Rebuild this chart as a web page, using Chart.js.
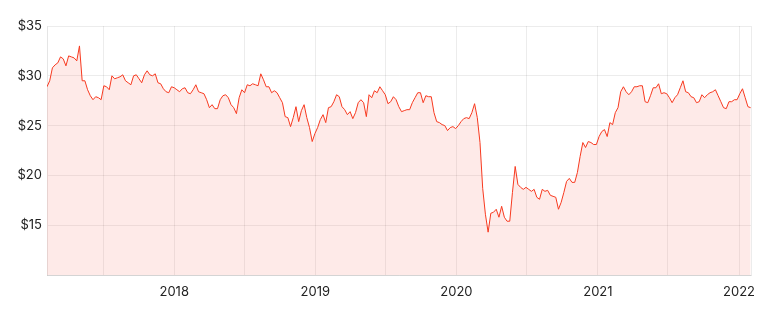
<!DOCTYPE html>
<html><head><meta charset="utf-8">
<script src="https://cdn.jsdelivr.net/npm/chart.js@4.4.1/dist/chart.umd.min.js"></script>
<style>html,body{margin:0;padding:0;background:#fff}#wrap{width:767px;height:311px}</style>
</head><body><div id="wrap"><canvas id="c" width="767" height="311"></canvas></div>
<script>
// Weekly closing prices (USD)
const weeks2017 = ["2017-02-06","2017-02-13","2017-02-20","2017-02-27","2017-03-06","2017-03-13","2017-03-20","2017-03-27","2017-04-03","2017-04-10","2017-04-17","2017-04-24","2017-05-01","2017-05-08","2017-05-15","2017-05-22","2017-05-29","2017-06-05","2017-06-12","2017-06-19","2017-06-26","2017-07-03","2017-07-10","2017-07-17","2017-07-24","2017-07-31","2017-08-07","2017-08-14","2017-08-21","2017-08-28","2017-09-04","2017-09-11","2017-09-18","2017-09-25","2017-10-02","2017-10-09","2017-10-16","2017-10-23","2017-10-30","2017-11-06","2017-11-13","2017-11-20","2017-11-27","2017-12-04","2017-12-11","2017-12-18","2017-12-25"];
const close2017 = [28.9,29.5,30.8,31.1,31.3,31.9,31.7,31.0,32.0,31.9,31.8,31.5,33.0,29.5,29.5,28.6,28.0,27.6,27.9,27.8,27.6,29.0,28.9,28.6,30.0,29.7,29.8,29.9,30.1,29.5,29.3,29.1,30.0,30.1,29.7,29.3,30.1,30.5,30.1,30.0,30.2,29.3,29.2,28.7,28.4,28.3,28.9];

const weeks2018 = ["2018-01-01","2018-01-08","2018-01-15","2018-01-22","2018-01-29","2018-02-05","2018-02-12","2018-02-19","2018-02-26","2018-03-05","2018-03-12","2018-03-19","2018-03-26","2018-04-02","2018-04-09","2018-04-16","2018-04-23","2018-04-30","2018-05-07","2018-05-14","2018-05-21","2018-05-28","2018-06-04","2018-06-11","2018-06-18","2018-06-25","2018-07-02","2018-07-09","2018-07-16","2018-07-23","2018-07-30","2018-08-06","2018-08-13","2018-08-20","2018-08-27","2018-09-03","2018-09-10","2018-09-17","2018-09-24","2018-10-01","2018-10-08","2018-10-15","2018-10-22","2018-10-29","2018-11-05","2018-11-12","2018-11-19","2018-11-26","2018-12-03","2018-12-10","2018-12-17","2018-12-24","2018-12-31"];
const close2018 = [28.8,28.6,28.4,28.7,28.8,28.3,28.2,28.6,29.1,28.4,28.3,28.2,27.6,26.8,27.1,26.7,26.7,27.6,28.0,28.1,27.8,27.1,26.8,26.2,27.8,28.6,28.3,29.1,29.0,29.2,29.1,29.0,30.2,29.6,28.9,28.9,28.3,28.5,28.3,27.8,27.3,25.9,25.8,24.9,25.8,26.9,25.4,26.5,27.1,25.8,24.8,23.4,24.2];

const weeks2019 = ["2019-01-07","2019-01-14","2019-01-21","2019-01-28","2019-02-04","2019-02-11","2019-02-18","2019-02-25","2019-03-04","2019-03-11","2019-03-18","2019-03-25","2019-04-01","2019-04-08","2019-04-15","2019-04-22","2019-04-29","2019-05-06","2019-05-13","2019-05-20","2019-05-27","2019-06-03","2019-06-10","2019-06-17","2019-06-24","2019-07-01","2019-07-08","2019-07-15","2019-07-22","2019-07-29","2019-08-05","2019-08-12","2019-08-19","2019-08-26","2019-09-02","2019-09-09","2019-09-16","2019-09-23","2019-09-30","2019-10-07","2019-10-14","2019-10-21","2019-10-28","2019-11-04","2019-11-11","2019-11-18","2019-11-25","2019-12-02","2019-12-09","2019-12-16","2019-12-23","2019-12-30"];
const close2019 = [24.8,25.6,26.1,25.3,26.8,26.9,27.4,28.1,27.9,26.9,26.6,26.1,26.4,25.7,26.3,27.3,27.6,27.3,25.9,28.1,27.8,28.5,28.3,28.9,28.5,28.1,27.2,27.4,27.9,27.6,26.9,26.4,26.5,26.6,26.6,27.3,27.8,28.3,28.3,27.3,28.0,27.9,27.9,26.3,25.4,25.3,25.1,25.0,24.5,24.8,24.9,24.7];

const weeks2020 = ["2020-01-06","2020-01-13","2020-01-20","2020-01-27","2020-02-03","2020-02-10","2020-02-17","2020-02-24","2020-03-02","2020-03-09","2020-03-16","2020-03-23","2020-03-30","2020-04-06","2020-04-13","2020-04-20","2020-04-27","2020-05-04","2020-05-11","2020-05-18","2020-05-25","2020-06-01","2020-06-08","2020-06-15","2020-06-22","2020-06-29","2020-07-06","2020-07-13","2020-07-20","2020-07-27","2020-08-03","2020-08-10","2020-08-17","2020-08-24","2020-08-31","2020-09-07","2020-09-14","2020-09-21","2020-09-28","2020-10-05","2020-10-12","2020-10-19","2020-10-26","2020-11-02","2020-11-09","2020-11-16","2020-11-23","2020-11-30","2020-12-07","2020-12-14","2020-12-21","2020-12-28"];
const close2020 = [25.0,25.4,25.7,25.8,25.7,26.3,27.2,25.8,23.3,18.7,16.1,14.3,16.2,16.3,16.6,15.8,16.9,15.8,15.4,15.4,18.3,20.9,19.1,18.8,18.6,18.8,18.6,18.4,18.6,17.8,17.6,18.6,18.4,18.5,18.0,17.9,17.8,16.6,17.3,18.3,19.4,19.7,19.3,19.3,20.3,21.9,23.3,22.8,23.4,23.3,23.1,23.1];

const weeks2021 = ["2021-01-04","2021-01-11","2021-01-18","2021-01-25","2021-02-01","2021-02-08","2021-02-15","2021-02-22","2021-03-01","2021-03-08","2021-03-15","2021-03-22","2021-03-29","2021-04-05","2021-04-12","2021-04-19","2021-04-26","2021-05-03","2021-05-10","2021-05-17","2021-05-24","2021-05-31","2021-06-07","2021-06-14","2021-06-21","2021-06-28","2021-07-05","2021-07-12","2021-07-19","2021-07-26","2021-08-02","2021-08-09","2021-08-16","2021-08-23","2021-08-30","2021-09-06","2021-09-13","2021-09-20","2021-09-27","2021-10-04","2021-10-11","2021-10-18","2021-10-25","2021-11-01","2021-11-08","2021-11-15","2021-11-22","2021-11-29","2021-12-06","2021-12-13","2021-12-20","2021-12-27"];
const close2021 = [23.9,24.4,24.6,23.9,25.3,25.1,26.3,26.8,28.4,28.9,28.4,28.1,28.4,28.9,28.9,29.0,29.0,27.4,27.3,28.0,28.8,28.8,29.2,28.2,28.3,28.2,27.8,27.3,27.8,28.1,28.8,29.5,28.4,28.3,27.9,27.8,27.3,27.4,28.1,27.8,28.1,28.3,28.4,28.6,28.0,27.4,26.8,26.7,27.4,27.4,27.6,27.6];

const weeks2022 = ["2022-01-03","2022-01-10","2022-01-17","2022-01-24","2022-01-31"];
const close2022 = [28.2,28.7,27.8,26.9,26.8];

// Axis definitions
const xStart = "2017-02-06";
const xEnd = "2022-02-01";
const gridDates = ["2017-07-01","2018-01-01","2018-07-01","2019-01-01","2019-07-01","2020-01-01","2020-07-01","2021-01-01","2021-07-01","2022-01-01","2022-02-01"];
const yearLabels = ["2018","2019","2020","2021","2022"];
const yTickValues = [10,15,20,25,30,35];

const allWeeks = [].concat(weeks2017, weeks2018, weeks2019, weeks2020, weeks2021, weeks2022);
const allClose = [].concat(close2017, close2018, close2019, close2020, close2021, close2022);
const toMs = d => Date.parse(d + "T00:00:00Z");
const points = allWeeks.map((d, i) => ({ x: toMs(d), y: allClose[i] }));
const labelFor = {};
yearLabels.forEach(y => { labelFor[toMs(y + "-01-01")] = y; });

const FONT = { family: "Inter, 'Open Sans', sans-serif", size: 13 };
const GRID = "rgba(0,0,0,0.075)";

new Chart(document.getElementById("c"), {
  type: "line",
  data: {
    datasets: [{
      data: points,
      borderColor: "#f7391f",
      borderWidth: 1,
      backgroundColor: "rgba(245, 60, 50, 0.11)",
      fill: "start",
      pointRadius: 0,
      tension: 0
    }]
  },
  options: {
    responsive: false,
    animation: false,
    devicePixelRatio: 1,
    layout: { padding: { top: 26, right: 16, left: 0, bottom: 0 } },
    plugins: { legend: { display: false }, tooltip: { enabled: false } },
    scales: {
      x: {
        type: "linear",
        min: toMs(xStart),
        max: toMs(xEnd),
        afterBuildTicks: s => { s.ticks = gridDates.map(d => ({ value: toMs(d) })); },
        afterFit: s => { s.height = 36; },
        ticks: {
          autoSkip: false, maxRotation: 0, padding: 9, color: "#222", font: FONT,
          callback: v => labelFor[v] || ""
        },
        grid: { color: GRID, drawTicks: false },
        border: { color: "rgba(0,0,0,0.1)" }
      },
      y: {
        min: 10,
        max: 35,
        afterBuildTicks: s => { s.ticks = yTickValues.map(v => ({ value: v })); },
        afterFit: s => { s.width = 47; },
        ticks: {
          padding: 5, color: "#222", font: FONT,
          callback: v => (v === 10 ? "" : "$" + v)
        },
        grid: { color: GRID, drawTicks: false },
        border: { color: "rgba(0,0,0,0.1)" }
      }
    }
  }
});
</script>
</body></html>
